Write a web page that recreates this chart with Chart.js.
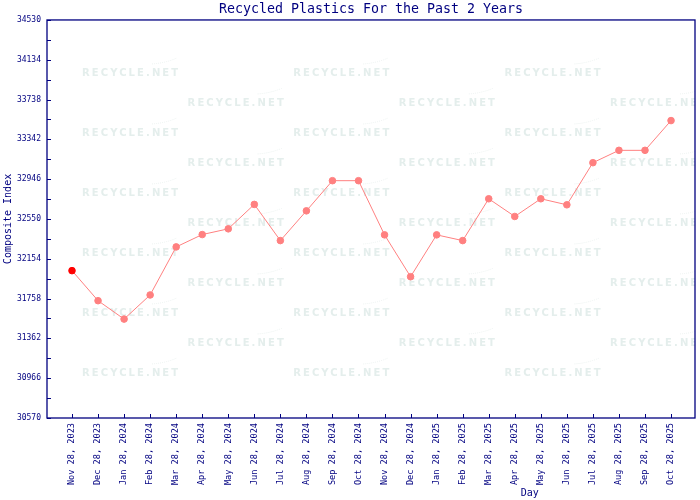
<!DOCTYPE html>
<html>
<head>
<meta charset="utf-8">
<script src="https://cdn.jsdelivr.net/npm/chart.js@4/dist/chart.umd.min.js"></script>
<style>
  body { margin: 0; background: #fff; }
  canvas { display: block; }
</style>
</head>
<body>
<canvas id="chart" width="700" height="500"></canvas>
<script>
const labels = [
  'Nov 28, 2023', 'Dec 28, 2023', 'Jan 28, 2024', 'Feb 28, 2024', 'Mar 28, 2024', 'Apr 28, 2024',
  'May 28, 2024', 'Jun 28, 2024', 'Jul 28, 2024', 'Aug 28, 2024', 'Sep 28, 2024', 'Oct 28, 2024',
  'Nov 28, 2024', 'Dec 28, 2024', 'Jan 28, 2025', 'Feb 28, 2025', 'Mar 28, 2025', 'Apr 28, 2025',
  'May 28, 2025', 'Jun 28, 2025', 'Jul 28, 2025', 'Aug 28, 2025', 'Sep 28, 2025', 'Oct 28, 2025'
]
const values = [
  32036, 31737, 31554, 31794, 32272, 32395,
  32452, 32695, 32335, 32631, 32931, 32931,
  32392, 31976, 32392, 32335, 32751, 32575,
  32751, 32691, 33110, 33233, 33233, 33529
]
const yMin = 30570
const yMax = 34530
const yLabelStep = 396

const navy = '#000080'
const mono = 'DejaVu Sans Mono'

// watermark, inward ticks, frame and the "Day" caption
const decor = {
  id: 'decor',
  beforeDatasetsDraw(chart) {
    const { ctx, chartArea: a } = chart
    ctx.save()
    ctx.beginPath()
    ctx.rect(a.left, a.top, a.right - a.left, a.bottom - a.top)
    ctx.clip()
    ctx.font = 'bold 10px "DejaVu Sans"'
    ctx.letterSpacing = '2.1px'
    ctx.textBaseline = 'middle'
    for (let c = 0; c < 6; c++) {
      const x = a.left + 35 + c * 105.6
      const start = c % 2 == 0 ? 53 : 83
      for (let y = a.top + start; y < a.bottom - 20; y += 60) {
        ctx.fillStyle = 'rgb(228,238,236)'
        ctx.fillText('RECYCLE.NET', x, y)
        ctx.strokeStyle = 'rgb(236,242,240)'
        ctx.setLineDash([1, 1])
        ctx.beginPath()
        ctx.moveTo(x + 70, y - 9)
        ctx.quadraticCurveTo(x + 84, y - 10, x + 95, y - 15)
        ctx.stroke()
        ctx.setLineDash([])
      }
    }
    ctx.restore()
  },
  afterDraw(chart) {
    const { ctx, chartArea: a, scales } = chart
    ctx.save()
    ctx.strokeStyle = navy
    ctx.lineWidth = 1.3
    ctx.strokeRect(a.left, a.top, a.right - a.left, a.bottom - a.top)
    ctx.lineWidth = 1
    ctx.beginPath()
    scales.y.ticks.forEach(t => {
      const py = Math.round(scales.y.getPixelForValue(t.value)) + 0.5
      ctx.moveTo(a.left, py)
      ctx.lineTo(a.left + 4, py)
    })
    scales.x.ticks.forEach(t => {
      if (!Number.isInteger(t.value)) return
      const px = Math.round(scales.x.getPixelForValue(t.value)) + 0.5
      ctx.moveTo(px, a.bottom)
      ctx.lineTo(px, a.bottom - 4)
    })
    ctx.stroke()
    ctx.fillStyle = navy
    ctx.font = '10px "' + mono + '"'
    ctx.textAlign = 'center'
    ctx.textBaseline = 'middle'
    ctx.fillText('Day', a.left + (a.right - a.left) * 0.745, 493)
    ctx.restore()
  }
}

const ctx = document.getElementById('chart')

const data = {
  datasets: [{
    data: values.map((v, i) => ({ x: i, y: v })),
    borderColor: '#ff8080',
    borderWidth: 1,
    pointRadius: 3.3,
    pointBackgroundColor: values.map((v, i) => i == 0 ? '#ff0000' : '#ff8080'),
    pointBorderColor: values.map((v, i) => i == 0 ? '#ff0000' : '#ff8080'),
    pointBorderWidth: 1,
    tension: 0
  }]
}

const config = {
  type: 'line',
  data: data,
  options: {
    responsive: false,
    animation: false,
    layout: { padding: { left: 0, right: 3, top: 0, bottom: 0 } },
    scales: {
      x: {
        type: 'linear',
        min: -0.96,
        max: 23.92,
        border: { display: false },
        grid: { display: false, drawTicks: false },
        afterFit(s) { s.height = 82 },
        ticks: {
          stepSize: 1,
          includeBounds: false,
          autoSkip: false,
          minRotation: 90,
          maxRotation: 90,
          padding: 5,
          color: navy,
          font: { family: mono, size: 8.6 },
          callback: v => labels[v] || ''
        }
      },
      y: {
        min: yMin,
        max: yMax,
        border: { display: false },
        grid: { display: false, drawTicks: false },
        afterFit(s) { s.width = 47 },
        title: {
          display: true,
          text: 'Composite Index',
          color: navy,
          font: { family: mono, size: 10 },
          padding: { top: 2, bottom: 0 }
        },
        ticks: {
          stepSize: yLabelStep / 2,
          autoSkip: false,
          padding: 6,
          color: navy,
          font: { family: mono, size: 8 },
          callback: v => (v - yMin) % yLabelStep == 0 ? String(v) : ''
        }
      }
    },
    plugins: {
      legend: { display: false },
      tooltip: { enabled: false },
      title: {
        display: true,
        fullSize: false,
        text: 'Recycled Plastics For the Past 2 Years',
        color: navy,
        font: { family: mono, size: 13.3, weight: 'normal' },
        padding: { top: 2, bottom: 2 }
      }
    }
  },
  plugins: [decor]
}

var myChart = new Chart(ctx, config)
</script>
</body>
</html>
